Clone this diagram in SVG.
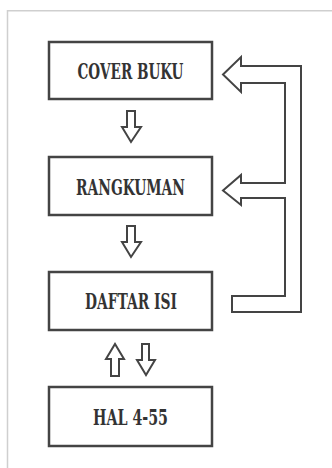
<svg xmlns="http://www.w3.org/2000/svg" width="332" height="468" viewBox="0 0 332 468">
<style>
.box{fill:#fff;stroke:#444;stroke-width:2.5}
.arr{fill:#fff;stroke:#444;stroke-width:2;stroke-linejoin:miter}
.lbl{font-family:"DejaVu Serif",serif;font-weight:bold;font-stretch:condensed;font-size:22px;fill:#333;text-anchor:middle}
.frame{fill:none;stroke:#cfcfcf;stroke-width:1.5}
</style>
<rect width="332" height="468" fill="#fff"/>
<path class="frame" d="M7.5 468 V10.7 H332"/>
<g id="node-cover">
<rect class="box" x="49" y="42" width="163" height="57"/>
<text class="lbl" x="130.5" y="78.5" textLength="106" lengthAdjust="spacingAndGlyphs">COVER BUKU</text>
</g>
<g id="node-rangkuman">
<rect class="box" x="49" y="157" width="163" height="58"/>
<text class="lbl" x="130.5" y="194.5" textLength="109" lengthAdjust="spacingAndGlyphs">RANGKUMAN</text>
</g>
<g id="node-daftar">
<rect class="box" x="49" y="272" width="163" height="58"/>
<text class="lbl" x="131" y="309" textLength="92" lengthAdjust="spacingAndGlyphs">DAFTAR ISI</text>
</g>
<g id="node-hal">
<rect class="box" x="49" y="387" width="163" height="59"/>
<text class="lbl" x="130.5" y="424.5" textLength="75" lengthAdjust="spacingAndGlyphs">HAL 4-55</text>
</g>
<g id="connectors">
<path class="arr" d="M127 111 H135 V127 H141 L131 142 L122 127 H127 Z"/>
<path class="arr" d="M127 226 H135 V242 H141 L131 257 L122 242 H127 Z"/>
<path class="arr" d="M111 376 V359 H106 L115 344 L124 359 H119 V376 Z"/>
<path class="arr" d="M142 344 H149 V360 H155 L146 375 L137 360 H142 Z"/>
<path class="arr" d="M223 74.5 L241 57 V66 H301 V312 H232 V296 H285 V198 H241 V205 L223 190.5 L241 175 V183 H285 V83 H241 V92 Z"/>
</g>
</svg>
